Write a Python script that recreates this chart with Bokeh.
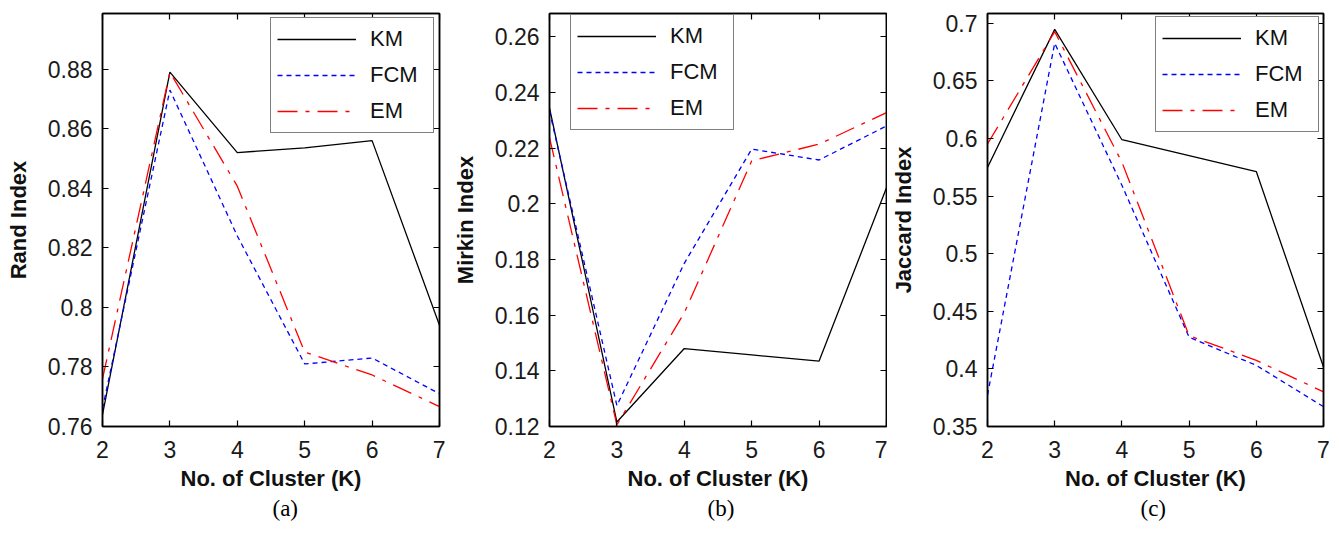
from bokeh.plotting import figure
from bokeh.models import Range1d, FixedTicker, NumeralTickFormatter, LinearAxis, Legend, LegendItem, Title
from bokeh.layouts import row
from bokeh.embed import file_html
from bokeh.resources import INLINE

# ---- data ----
k_values = [2, 3, 4, 5, 6, 7]
series_names = ["KM", "FCM", "EM"]

rand_km = [0.764, 0.879, 0.852, 0.8536, 0.856, 0.794]
rand_fcm = [0.766, 0.873, 0.824, 0.781, 0.783, 0.771]
rand_em = [0.776, 0.879, 0.8407, 0.785, 0.7773, 0.7667]

mirkin_km = [0.2344, 0.1216, 0.148, 0.1457, 0.1435, 0.2057]
mirkin_fcm = [0.2333, 0.1275, 0.1786, 0.2196, 0.2157, 0.2279]
mirkin_em = [0.2237, 0.1206, 0.1608, 0.2154, 0.2214, 0.2327]

jaccard_km = [0.575, 0.6948, 0.599, 0.5852, 0.5714, 0.4016]
jaccard_fcm = [0.3773, 0.6828, 0.5594, 0.4275, 0.4031, 0.3672]
jaccard_em = [0.5953, 0.6928, 0.5795, 0.4289, 0.4074, 0.3801]

x_ticks = [2, 3, 4, 5, 6, 7]
rand_ticks = [0.76, 0.78, 0.80, 0.82, 0.84, 0.86, 0.88]
mirkin_ticks = [0.12, 0.14, 0.16, 0.18, 0.20, 0.22, 0.24, 0.26]
jaccard_ticks = [0.35, 0.40, 0.45, 0.50, 0.55, 0.60, 0.65, 0.70]

colors = ["black", "#0000ff", "#ff0000"]
dashes = ["solid", "5 4", "20 8 4 8"]

FONT = "Liberation Sans"
FRAME_H = 416
FIG_H = 533


def style_axis(ax, ticks, standoff=None):
    ax.ticker = FixedTicker(ticks=ticks)
    ax.major_tick_in = 6
    ax.major_tick_out = 0
    ax.minor_tick_line_color = None
    ax.axis_line_color = "black"
    ax.axis_line_width = 1.5
    ax.major_tick_line_color = "black"
    ax.major_tick_line_width = 1.2
    ax.major_label_text_font = FONT
    if standoff is not None:
        ax.major_label_text_font_size = "23px"
        ax.major_label_text_color = "#1a1a1a"
        ax.major_label_standoff = standoff
    else:
        ax.major_label_text_font_size = "0px"
        ax.major_label_text_color = None
        ax.major_label_standoff = 0
    ax.formatter = NumeralTickFormatter(format="0.[00]")


def make_panel(ylabel, series, yticks, yrange, width, left, right, top, legend_loc, caption, cap_offset):
    p = figure(width=width, height=FIG_H, output_backend="svg", toolbar_location=None,
               x_range=Range1d(2, 7), y_range=Range1d(*yrange),
               min_border_left=left, min_border_right=right, min_border_top=top,
               min_border_bottom=FIG_H - top - FRAME_H)
    p.grid.visible = False
    p.outline_line_color = "black"
    p.outline_line_width = 1.5
    p.background_fill_color = "white"
    p.border_fill_color = "white"

    bottom_ax = p.xaxis[0]
    left_ax = p.yaxis[0]
    style_axis(bottom_ax, x_ticks, 14)
    style_axis(left_ax, yticks, 10)
    top_ax = LinearAxis()
    right_ax = LinearAxis()
    style_axis(top_ax, x_ticks)
    style_axis(right_ax, yticks)
    p.add_layout(top_ax, "above")
    p.add_layout(right_ax, "right")

    bottom_ax.axis_label = "No. of Cluster (K)"
    left_ax.axis_label = ylabel
    for ax, so in ((bottom_ax, 5), (left_ax, 14)):
        ax.axis_label_text_font = FONT
        ax.axis_label_text_font_style = "bold"
        ax.axis_label_text_font_size = "22px"
        ax.axis_label_text_color = "#111111"
        ax.axis_label_standoff = so

    items = []
    for name, vals, c, d in zip(series_names, series, colors, dashes):
        r = p.line(k_values, vals, line_color=c, line_width=1.3, line_dash=d)
        items.append(LegendItem(label=name, renderers=[r]))

    legend = Legend(items=items, location=legend_loc, border_line_color="black",
                    border_line_width=1.5, background_fill_color="white", background_fill_alpha=1,
                    label_text_font=FONT, label_text_font_size="22px", label_text_color="#111111",
                    glyph_width=79, glyph_height=30, label_height=30, label_width=57,
                    label_standoff=14, spacing=6, padding=6, margin=0)
    p.add_layout(legend, "center")

    cap = Title(text=caption, align="left", text_font="Liberation Serif", text_font_size="23px",
                text_font_style="normal", text_color="black", standoff=0, offset=cap_offset)
    p.add_layout(cap, "below")
    return p


pa = make_panel("Rand Index", [rand_km, rand_fcm, rand_em], rand_ticks, (0.76, 0.8987),
                445, 102, 6, 10, (168, 293), "(a)", 170)
pb = make_panel("Mirkin Index", [mirkin_km, mirkin_fcm, mirkin_em], mirkin_ticks, (0.12, 0.2683),
                442, 104, 1, 12, (21, 296), "(b)", 158)
pc = make_panel("Jaccard Index", [jaccard_km, jaccard_fcm, jaccard_em], jaccard_ticks, (0.35, 0.7086),
                452, 100, 16, 13, (168, 294), "(c)", 153)

layout = row(pa, pb, pc)
open("out.html", "w").write(file_html(layout, INLINE))
